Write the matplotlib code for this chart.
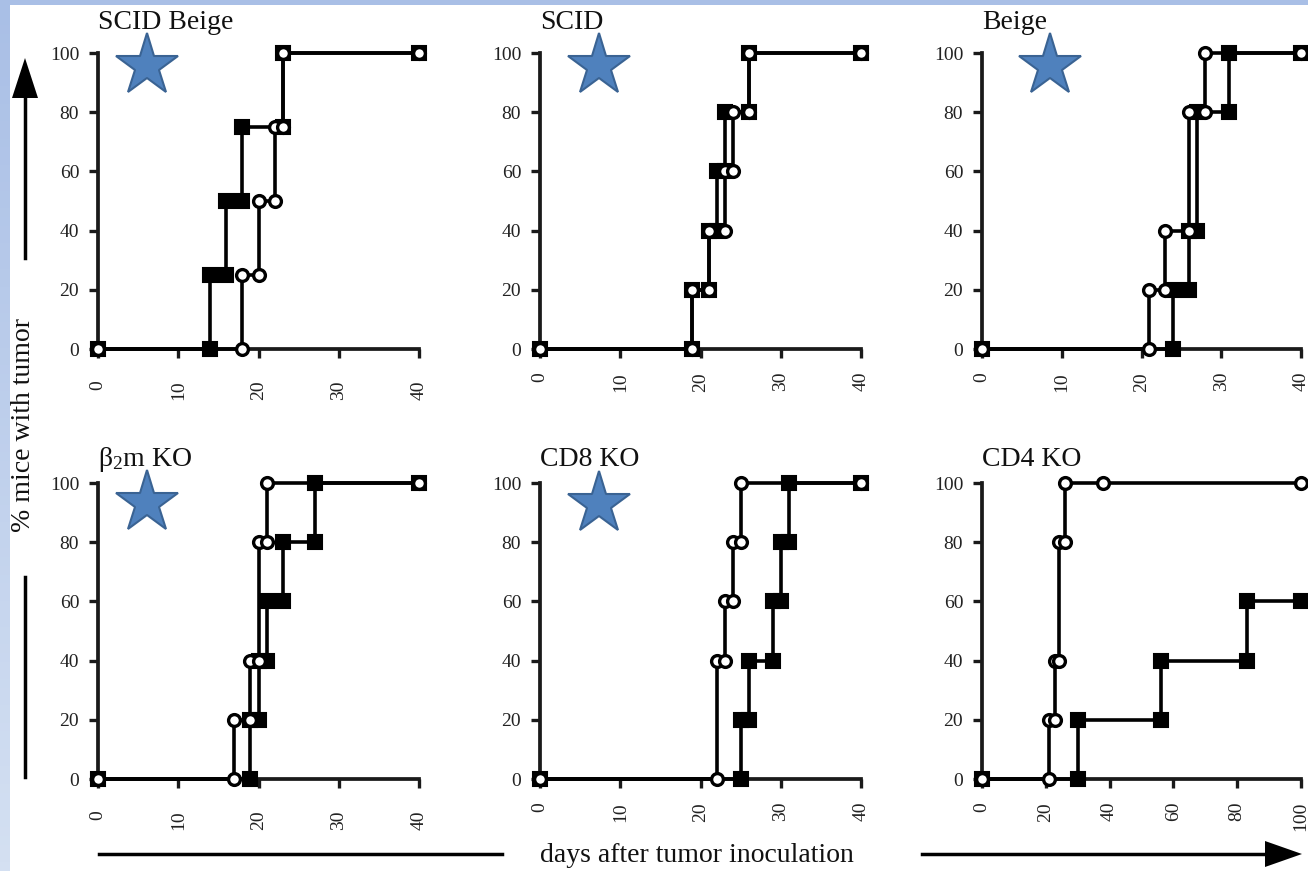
import numpy as np
import matplotlib
matplotlib.use('Agg')
import matplotlib.pyplot as plt
from matplotlib.colors import LinearSegmentedColormap

plt.rcParams['font.family'] = ['Liberation Serif', 'DejaVu Serif']
plt.rcParams['mathtext.fontset'] = 'custom'
plt.rcParams['mathtext.rm'] = 'Liberation Serif'
plt.rcParams['mathtext.it'] = 'Liberation Serif'

# panel titles and axes
titles = ['SCID Beige', 'SCID', 'Beige', r'$\beta_2$m KO', 'CD8 KO', 'CD4 KO']
x_max = [40, 40, 40, 40, 40, 100]
x_ticks_40 = [0, 10, 20, 30, 40]
x_ticks_100 = [0, 20, 40, 60, 80, 100]
y_ticks = [0, 20, 40, 60, 80, 100]

# filled squares (sq) and open circles (ci): day, % mice with tumor
scid_beige_sq_x = [0, 14, 14, 16, 16, 18, 18, 23, 23, 40]
scid_beige_sq_y = [0, 0, 25, 25, 50, 50, 75, 75, 100, 100]
scid_beige_ci_x = [0, 18, 18, 20, 20, 22, 22, 23, 23, 40]
scid_beige_ci_y = [0, 0, 25, 25, 50, 50, 75, 75, 100, 100]

scid_sq_x = [0, 19, 19, 21, 21, 22, 22, 23, 23, 26, 26, 40]
scid_sq_y = [0, 0, 20, 20, 40, 40, 60, 60, 80, 80, 100, 100]
scid_ci_x = [0, 19, 19, 21, 21, 23, 23, 24, 24, 26, 26, 40]
scid_ci_y = [0, 0, 20, 20, 40, 40, 60, 60, 80, 80, 100, 100]

beige_sq_x = [0, 24, 24, 26, 26, 27, 27, 31, 31, 40]
beige_sq_y = [0, 0, 20, 20, 40, 40, 80, 80, 100, 100]
beige_ci_x = [0, 21, 21, 23, 23, 26, 26, 28, 28, 40]
beige_ci_y = [0, 0, 20, 20, 40, 40, 80, 80, 100, 100]

b2m_sq_x = [0, 19, 19, 20, 20, 21, 21, 23, 23, 27, 27, 40]
b2m_sq_y = [0, 0, 20, 20, 40, 40, 60, 60, 80, 80, 100, 100]
b2m_ci_x = [0, 17, 17, 19, 19, 20, 20, 21, 21, 40]
b2m_ci_y = [0, 0, 20, 20, 40, 40, 80, 80, 100, 100]

cd8_sq_x = [0, 25, 25, 26, 26, 29, 29, 30, 30, 31, 31, 40]
cd8_sq_y = [0, 0, 20, 20, 40, 40, 60, 60, 80, 80, 100, 100]
cd8_ci_x = [0, 22, 22, 23, 23, 24, 24, 25, 25, 40]
cd8_ci_y = [0, 0, 40, 40, 60, 60, 80, 80, 100, 100]

cd4_sq_x = [0, 30, 30, 56, 56, 83, 83, 100]
cd4_sq_y = [0, 0, 20, 20, 40, 40, 60, 60]
cd4_ci_x = [0, 21, 21, 23, 23, 24, 24, 26, 26, 38, 100]
cd4_ci_y = [0, 0, 20, 20, 40, 40, 80, 80, 100, 100, 100]

series = [
    (scid_beige_sq_x, scid_beige_sq_y, scid_beige_ci_x, scid_beige_ci_y),
    (scid_sq_x, scid_sq_y, scid_ci_x, scid_ci_y),
    (beige_sq_x, beige_sq_y, beige_ci_x, beige_ci_y),
    (b2m_sq_x, b2m_sq_y, b2m_ci_x, b2m_ci_y),
    (cd8_sq_x, cd8_sq_y, cd8_ci_x, cd8_ci_y),
    (cd4_sq_x, cd4_sq_y, cd4_ci_x, cd4_ci_y),
]

W, H = 1308, 871
fig = plt.figure(figsize=(W / 100, H / 100), dpi=100)
fig.patch.set_facecolor('white')

# layout in pixels
col_left = [98, 540, 982]
col_width = [321, 321, 319]
row_zero = [349, 779]      # pixel row of y = 0
ax_h = 296
title_base = [29, 466]
x_pad = [16, 10, 10]
star_pos = [(147, 66), (599, 66), (1050, 66), (147, 503), (599, 504)]

dark = '#1a1a1a'
for i, (sq_x, sq_y, ci_x, ci_y) in enumerate(series):
    r, c = divmod(i, 3)
    ax = fig.add_axes([col_left[c] / W, (H - row_zero[r]) / H,
                       col_width[c] / W, ax_h / H])
    ax.patch.set_alpha(0)
    ax.plot(sq_x, sq_y, color='k', lw=2.6, marker='s', ms=9.5,
            mfc='k', mec='k', mew=1.5, clip_on=False, zorder=3)
    ax.plot(ci_x, ci_y, color='k', lw=2.6, marker='o', ms=8.5,
            mfc='white', mec='k', mew=2.4, clip_on=False, zorder=4)
    ax.set_xlim(0, x_max[i])
    ax.set_ylim(0, 100)
    ax.set_xticks(x_ticks_100 if x_max[i] == 100 else x_ticks_40)
    ax.set_yticks(y_ticks)
    for s in ['top', 'right']:
        ax.spines[s].set_visible(False)
    for s in ['left', 'bottom']:
        ax.spines[s].set_linewidth(2.7)
        ax.spines[s].set_color(dark)
    ax.tick_params(direction='out', length=6.5, width=2.4, color=dark,
                   labelsize=14, labelcolor='#222222')
    ax.tick_params(axis='x', labelrotation=90, pad=x_pad[c])
    ax.tick_params(axis='y', pad=7)

# overlay in pixel coordinates for decorations
ov = fig.add_axes([0, 0, 1, 1], zorder=10)
ov.patch.set_alpha(0)

band = LinearSegmentedColormap.from_list('band', ['#a9bfe6', '#d4e0f2'])
ov.imshow(np.linspace(0, 1, 100).reshape(-1, 1), cmap=band, aspect='auto',
          extent=[0, 10, H, 0])
ov.fill([0, W, W, 0], [0, 0, 5, 5], color='#a9bfe6', lw=0)

for i, t in enumerate(titles):
    r, c = divmod(i, 3)
    ov.text(col_left[c], title_base[r], t, fontsize=20, color='#111111',
            ha='left', va='baseline')

for (sx, sy) in star_pos:
    ov.plot(sx, sy, marker='*', ms=47, mfc='#4f81bd', mec='#3a6393', mew=1.5)

# y label with arrow
ov.text(24, 425, '% mice with tumor', fontsize=20, rotation=90,
        ha='center', va='center', color='#111111')
ov.plot([25, 25], [258, 95], color='k', lw=2.5)
ov.fill([12, 38, 25], [98, 98, 58], color='k', lw=0)
ov.plot([25, 25], [577, 777], color='k', lw=2.5)

# x label with arrow
ov.text(697, 855, 'days after tumor inoculation', fontsize=20,
        ha='center', va='center', color='#111111')
ov.plot([99, 502], [854, 854], color='k', lw=2.5)
ov.plot([922, 1270], [854, 854], color='k', lw=2.5)
ov.fill([1265, 1265, 1302], [841, 867, 854], color='k', lw=0)

ov.set_xlim(0, W)
ov.set_ylim(H, 0)
ov.axis('off')

fig.savefig('out.png', dpi=100)
